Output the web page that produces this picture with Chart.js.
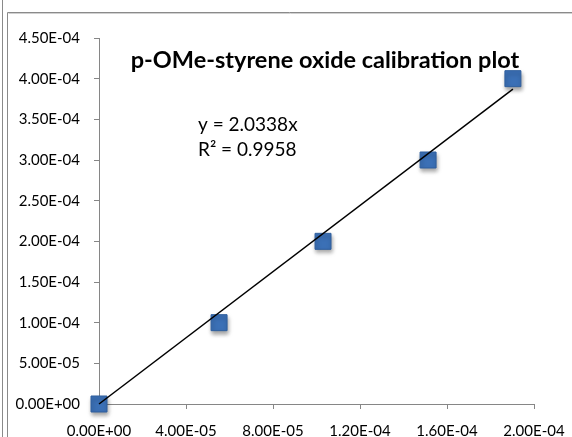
<!DOCTYPE html>
<html>
<head>
<meta charset="utf-8">
<script src="https://cdn.jsdelivr.net/npm/chart.js@4/dist/chart.umd.min.js"></script>
<style>
  html, body { margin: 0; padding: 0; background: #fff; }
  #wrap { width: 572px; height: 437px; position: relative; }
</style>
</head>
<body>
<div id="wrap"><canvas id="calChart" width="572" height="437"></canvas></div>
<script>
// measured concentrations (x) vs standard concentrations (y)
const xValues = [0, 5.52e-5, 1.03e-4, 1.513e-4, 1.903e-4];
const yValues = [0, 1.0e-4, 2.0e-4, 3.0e-4, 4.0e-4];

// linear trendline through origin, as printed on the chart
const slope = 2.0338;
const rSquared = "0.9958";
const trendX = [0, 1.903e-4];

const titleText = "p-OMe-styrene oxide calibration plot";
const FONT = "Lato, Calibri, 'Liberation Sans', sans-serif";

// Excel-style "0.00E+00" labels
function sciLabel(v) {
  const parts = Number(v).toExponential(2).split("e");
  const sign = parts[1][0];
  const digits = parts[1].slice(1).padStart(2, "0");
  return parts[0] + "E" + sign + digits;
}

const points = xValues.map((x, i) => ({ x: x, y: yValues[i] }));
const trend = trendX.map((x) => ({ x: x, y: slope * x }));

// frame around the chart, title and equation text
const decorPlugin = {
  id: "decor",
  beforeDraw(chart) {
    const ctx = chart.ctx;
    ctx.save();
    ctx.strokeStyle = "#8a8a8a";
    ctx.lineWidth = 1;
    ctx.beginPath();
    ctx.moveTo(2.5, 0);
    ctx.lineTo(2.5, 437);
    ctx.moveTo(7.5, 437);
    ctx.lineTo(7.5, 12.5);
    ctx.lineTo(572, 12.5);
    ctx.stroke();
    ctx.strokeStyle = "#d0d0d0";
    ctx.beginPath();
    ctx.moveTo(8.5, 13.5);
    ctx.lineTo(572, 13.5);
    ctx.stroke();
    ctx.restore();
  },
  afterDraw(chart) {
    const ctx = chart.ctx;
    ctx.save();
    ctx.fillStyle = "#000";
    ctx.textBaseline = "middle";
    ctx.textAlign = "center";
    ctx.font = "bold 23.5px " + FONT;
    ctx.fillText(titleText, 325, 60);
    ctx.textAlign = "left";
    ctx.font = "19px " + FONT;
    ctx.fillText("y = " + slope + "x", 198, 125);
    ctx.fillText("R\u00B2 = " + rSquared, 198, 150);
    ctx.restore();
  },
  beforeDatasetDraw(chart, args) {
    if (args.index === 1) {
      const ctx = chart.ctx;
      ctx.save();
      ctx.shadowColor = "rgba(0,0,0,0.35)";
      ctx.shadowBlur = 4;
      ctx.shadowOffsetX = 1;
      ctx.shadowOffsetY = 3;
    }
  },
  afterDatasetDraw(chart, args) {
    if (args.index === 1) chart.ctx.restore();
  },
};

const ctx = document.getElementById("calChart").getContext("2d");
new Chart(ctx, {
  type: "scatter",
  data: {
    datasets: [
      {
        label: "Linear trend",
        type: "line",
        data: trend,
        borderColor: "#000",
        borderWidth: 1.5,
        pointRadius: 0,
        fill: false,
        clip: false,
        order: 1,
      },
      {
        label: "Calibration",
        data: points,
        pointStyle: "rect",
        pointRadius: 11.3,
        pointHoverRadius: 11.3,
        backgroundColor: "#3b70b6",
        borderColor: "#2f5f9e",
        borderWidth: 1,
        clip: false,
        order: 2,
      },
    ],
  },
  plugins: [decorPlugin],
  options: {
    responsive: false,
    animation: false,
    events: [],
    layout: { padding: { left: 0, right: 38, top: 38, bottom: 0 } },
    plugins: {
      legend: { display: false },
      tooltip: { enabled: false },
    },
    scales: {
      x: {
        type: "linear",
        min: 0,
        max: 2.0e-4,
        ticks: {
          stepSize: 4.0e-5,
          padding: 13,
          color: "#000",
          font: { family: FONT, size: 15 },
          callback: (v) => sciLabel(v),
        },
        grid: {
          drawOnChartArea: false,
          drawTicks: true,
          tickLength: 5,
          color: "#868686",
        },
        border: { color: "#868686" },
        afterFit: (s) => {
          s.height = 33;
          s.paddingLeft = 0;
          s.paddingRight = 0;
        },
      },
      y: {
        type: "linear",
        min: 0,
        max: 4.5e-4,
        ticks: {
          stepSize: 5.0e-5,
          padding: 14,
          color: "#000",
          font: { family: FONT, size: 15 },
          callback: (v) => sciLabel(v),
        },
        grid: {
          drawOnChartArea: false,
          drawTicks: true,
          tickLength: 5,
          color: "#868686",
        },
        border: { color: "#868686" },
        afterFit: (s) => {
          s.width = 99;
          s.paddingTop = 0;
          s.paddingBottom = 0;
        },
      },
    },
  },
});
</script>
</body>
</html>
